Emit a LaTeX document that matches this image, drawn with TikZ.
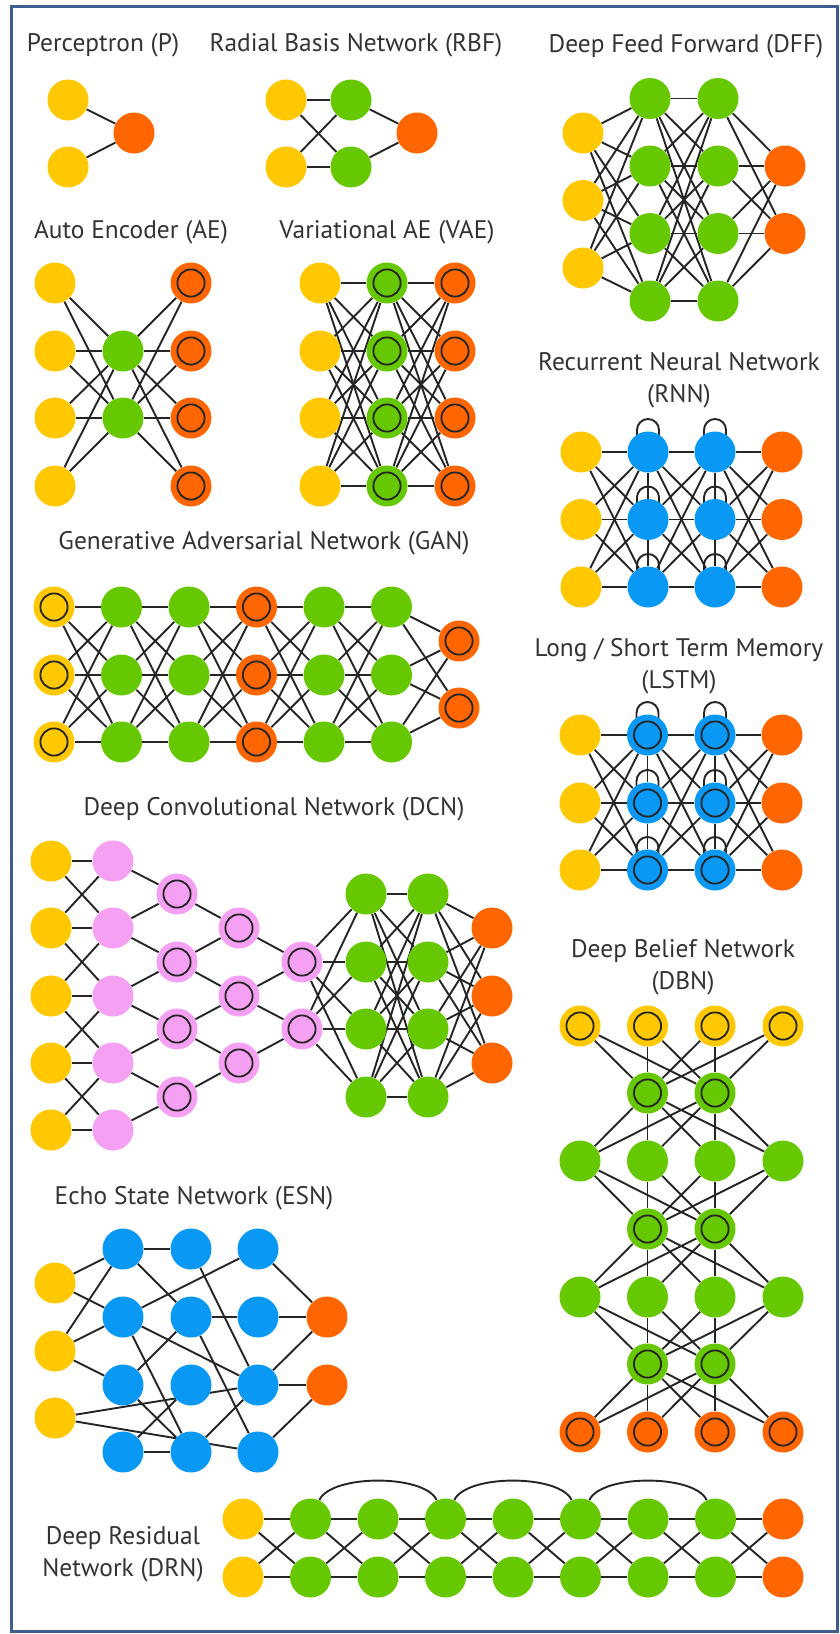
\documentclass[tikz,border=0pt]{standalone}
\usepackage{fontspec}
\setmainfont{PT Sans}
\usetikzlibrary{calc}
\pgfdeclarelayer{bg}
\pgfsetlayers{bg,main}
\definecolor{cY}{HTML}{FFC800}
\definecolor{cG}{HTML}{66C800}
\definecolor{cO}{HTML}{FF6600}
\definecolor{cB}{HTML}{0A98F5}
\definecolor{cP}{HTML}{F6A0F4}
\definecolor{cT}{HTML}{333333}
\definecolor{cE}{HTML}{252525}
\definecolor{cF}{HTML}{3D5E8E}
\newcommand\fullc[5]{\foreach \ii in {#3}{\foreach \jj in {#5}{\draw[edge] (#1-#2-\ii) -- (#1-#4-\jj);}}}
\newcommand\selfloop[1]{\draw[edge] ([xshift=-5.5pt]#1.center) -- ++(0pt,11pt) arc[start angle=180,end angle=0,radius=5.5pt] -- ++(0pt,-11pt);}
\tikzset{
  nn/.style={circle, inner sep=0pt, minimum size=20.5pt, draw=none},
  yel/.style={nn, fill=cY}, grn/.style={nn, fill=cG}, org/.style={nn, fill=cO},
  blu/.style={nn, fill=cB}, pnk/.style={nn, fill=cP},
  ring/.style={path picture={\draw[line width=0.9pt, cE] (path picture bounding box.center) circle[radius=6.8pt];}},
  edge/.style={draw=cE, line width=0.95pt},
  ttl/.style={text=cT, font=\fontsize{12.7}{16}\selectfont, align=center, inner sep=0pt},
}
\begin{document}
\begin{tikzpicture}[x=0.5pt, y=-0.5pt]
\useasboundingbox (0,0) rectangle (840,1634);
\draw[cF, line width=1.5pt] (11.5,6.5) rectangle (837.5,1631);

% ---------- titles
\node[ttl] (t-p) at (103,45) {Perceptron (P)};
\node[ttl] (t-rbf) at (356,45) {Radial Basis Network (RBF)};
\node[ttl] (t-dff) at (686,46) {Deep Feed Forward (DFF)};
\node[ttl] (t-ae) at (131,232) {Auto Encoder (AE)};
\node[ttl] (t-vae) at (387,232) {Variational AE (VAE)};
\node[ttl] (t-rnn) at (679,380) {Recurrent Neural Network\\(RNN)};
\node[ttl] (t-gan) at (264,543) {Generative Adversarial Network (GAN)};
\node[ttl] (t-lstm) at (679,666) {Long / Short Term Memory\\(LSTM)};
\node[ttl] (t-dcn) at (274,809) {Deep Convolutional Network (DCN)};
\node[ttl] (t-dbn) at (683,967) {Deep Belief Network\\(DBN)};
\node[ttl] (t-esn) at (194,1198) {Echo State Network (ESN)};
\node[ttl] (t-drn) at (123,1554) {Deep Residual\\Network (DRN)};

% ---------- Perceptron
\node[yel] (p-0-1) at (68,100) {};
\node[yel] (p-0-2) at (68,167) {};
\node[org] (p-1-1) at (134,133) {};

% ---------- RBF
\node[yel] (rbf-0-1) at (286,100) {};
\node[yel] (rbf-0-2) at (286,167) {};
\node[grn] (rbf-1-1) at (351,100) {};
\node[grn] (rbf-1-2) at (351,167) {};
\node[org] (rbf-2-1) at (417,133) {};

% ---------- DFF
\foreach \r/\y in {1/133,2/200.5,3/268} \node[yel] (dff-0-\r) at (583,\y) {};
\foreach \r/\y in {1/98.5,2/166,3/233.5,4/301} {
  \node[grn] (dff-1-\r) at (650,\y) {};
  \node[grn] (dff-2-\r) at (718,\y) {};
}
\foreach \r/\y in {1/166,2/233.5} \node[org] (dff-3-\r) at (785,\y) {};

% ---------- AE / VAE
\foreach \r/\y in {1/283,2/351,3/418,4/486} {
  \node[yel] (ae-0-\r) at (55,\y) {};
  \node[org, ring] (ae-2-\r) at (191,\y) {};
  \node[yel] (vae-0-\r) at (320,\y) {};
  \node[grn, ring] (vae-1-\r) at (387,\y) {};
  \node[org, ring] (vae-2-\r) at (455,\y) {};
}
\node[grn] (ae-1-1) at (123,351) {};
\node[grn] (ae-1-2) at (123,418) {};

% ---------- RNN
\foreach \r/\y in {1/452,2/519.5,3/587} {
  \node[yel] (rnn-0-\r) at (581,\y) {};
  \node[blu] (rnn-1-\r) at (648,\y) {};
  \node[blu] (rnn-2-\r) at (715,\y) {};
  \node[org] (rnn-3-\r) at (782,\y) {};
}

% ---------- LSTM
\foreach \r/\y in {1/735,2/803,3/870} {
  \node[yel] (lstm-0-\r) at (580,\y) {};
  \node[blu, ring] (lstm-1-\r) at (647.5,\y) {};
  \node[blu, ring] (lstm-2-\r) at (715,\y) {};
  \node[org] (lstm-3-\r) at (782,\y) {};
}

% ---------- GAN
\foreach \r/\y in {1/607,2/675,3/742} {
  \node[yel, ring] (gan-0-\r) at (54,\y) {};
  \node[grn] (gan-1-\r) at (121.5,\y) {};
  \node[grn] (gan-2-\r) at (189,\y) {};
  \node[org, ring] (gan-3-\r) at (256.5,\y) {};
  \node[grn] (gan-4-\r) at (324,\y) {};
  \node[grn] (gan-5-\r) at (391.5,\y) {};
}
\node[org, ring] (gan-6-1) at (459,641) {};
\node[org, ring] (gan-6-2) at (459,708) {};

% ---------- DCN
\foreach \r/\y in {1/861,2/928,3/996,4/1063,5/1130} {
  \node[yel] (dcn-0-\r) at (51,\y) {};
  \node[pnk] (dcn-1-\r) at (113,\y) {};
}
\foreach \r/\y in {1/894,2/962,3/1029,4/1097} {
  \node[pnk, ring] (dcn-2-\r) at (177,\y) {};
  \node[grn] (dcn-5-\r) at (366,\y) {};
  \node[grn] (dcn-6-\r) at (428,\y) {};
}
\foreach \r/\y in {1/928,2/996,3/1063} {
  \node[pnk, ring] (dcn-3-\r) at (239,\y) {};
  \node[org] (dcn-7-\r) at (492,\y) {};
}
\node[pnk, ring] (dcn-4-1) at (302,962) {};
\node[pnk, ring] (dcn-4-2) at (302,1029) {};

% ---------- DBN
\foreach \c/\x in {1/580,2/647.5,3/715,4/783} {
  \node[yel, ring] (dbn-0-\c) at (\x,1026) {};
  \node[grn] (dbn-2-\c) at (\x,1161) {};
  \node[grn] (dbn-4-\c) at (\x,1297) {};
  \node[org, ring] (dbn-6-\c) at (\x,1432) {};
}
\foreach \c/\x in {1/647.5,2/715} {
  \node[grn, ring] (dbn-1-\c) at (\x,1093) {};
  \node[grn, ring] (dbn-3-\c) at (\x,1229) {};
  \node[grn, ring] (dbn-5-\c) at (\x,1364) {};
}

% ---------- ESN
\foreach \r/\y in {1/1283,2/1351,3/1418} \node[yel] (esn-0-\r) at (55,\y) {};
\foreach \r/\y in {1/1249,2/1317,3/1385,4/1452} {
  \node[blu] (esn-1-\r) at (123,\y) {};
  \node[blu] (esn-2-\r) at (191,\y) {};
  \node[blu] (esn-3-\r) at (258,\y) {};
}
\node[org] (esn-4-1) at (327,1317) {};
\node[org] (esn-4-2) at (327,1385) {};

% ---------- DRN
\foreach \r/\y in {1/1519,2/1577} {
  \node[yel] (drn-0-\r) at (243,\y) {};
  \foreach \k in {1,...,7} \node[grn] (drn-\k-\r) at (243+67.5*\k,\y) {};
  \node[org] (drn-8-\r) at (783,\y) {};
}

% ================= connectors
\begin{pgfonlayer}{bg}
% Perceptron, RBF
\fullc{p}{0}{1,2}{1}{1}
\fullc{rbf}{0}{1,2}{1}{1,2}
\fullc{rbf}{1}{1,2}{2}{1}
% DFF
\fullc{dff}{0}{1,2,3}{1}{1,2,3,4}
\fullc{dff}{1}{1,2,3,4}{2}{1,2,3,4}
\fullc{dff}{2}{1,2,3,4}{3}{1,2}
% AE, VAE
\fullc{ae}{0}{1,2,3,4}{1}{1,2}
\fullc{ae}{1}{1,2}{2}{1,2,3,4}
\fullc{vae}{0}{1,2,3,4}{1}{1,2,3,4}
\fullc{vae}{1}{1,2,3,4}{2}{1,2,3,4}
% RNN, LSTM
\foreach \n in {rnn,lstm} {
  \fullc{\n}{0}{1,2,3}{1}{1,2,3}
  \fullc{\n}{1}{1,2,3}{2}{1,2,3}
  \fullc{\n}{2}{1,2,3}{3}{1,2,3}
  \foreach \c in {1,2} {
    \draw[edge] (\n-\c-1) -- (\n-\c-2);
    \draw[edge] (\n-\c-2) -- (\n-\c-3);
    \foreach \r in {1,2,3} {\selfloop{\n-\c-\r}}
  }
}
% GAN
\fullc{gan}{0}{1,2,3}{1}{1,2,3}
\fullc{gan}{1}{1,2,3}{2}{1,2,3}
\fullc{gan}{2}{1,2,3}{3}{1,2,3}
\fullc{gan}{3}{1,2,3}{4}{1,2,3}
\fullc{gan}{4}{1,2,3}{5}{1,2,3}
\fullc{gan}{5}{1,2,3}{6}{1,2}
% DCN
\foreach \i in {1,...,5} \draw[edge] (dcn-0-\i) -- (dcn-1-\i);
\foreach \i [evaluate=\i as \j using int(\i+1)] in {1,...,4} {
  \draw[edge] (dcn-0-\i) -- (dcn-1-\j);
  \draw[edge] (dcn-0-\j) -- (dcn-1-\i);
  \draw[edge] (dcn-1-\i) -- (dcn-2-\i);
  \draw[edge] (dcn-1-\j) -- (dcn-2-\i);
}
\foreach \i [evaluate=\i as \j using int(\i+1)] in {1,2,3} {
  \draw[edge] (dcn-2-\i) -- (dcn-3-\i);
  \draw[edge] (dcn-2-\j) -- (dcn-3-\i);
}
\foreach \i [evaluate=\i as \j using int(\i+1)] in {1,2} {
  \draw[edge] (dcn-3-\i) -- (dcn-4-\i);
  \draw[edge] (dcn-3-\j) -- (dcn-4-\i);
}
\fullc{dcn}{4}{1,2}{5}{1,2,3,4}
\fullc{dcn}{5}{1,2,3,4}{6}{1,2,3,4}
\fullc{dcn}{6}{1,2,3,4}{7}{1,2,3}
% DBN
\fullc{dbn}{0}{1,2,3,4}{1}{1,2}
\fullc{dbn}{1}{1,2}{2}{1,2,3,4}
\fullc{dbn}{2}{1,2,3,4}{3}{1,2}
\fullc{dbn}{3}{1,2}{4}{1,2,3,4}
\fullc{dbn}{4}{1,2,3,4}{5}{1,2}
\fullc{dbn}{5}{1,2}{6}{1,2,3,4}
% ESN
\foreach \a/\b in {0-1/1-1,0-1/1-2,0-2/1-1,0-2/1-2,0-2/1-3,0-3/3-3,0-3/3-4,
  1-1/2-1,1-1/2-2,1-2/3-1,1-2/3-3,1-2/2-4,1-3/2-2,1-3/2-4,1-4/2-3,1-4/2-4,
  2-1/3-3,2-2/3-2,2-2/3-4,2-4/3-3,
  3-1/4-1,3-2/4-1,3-3/4-1,3-3/4-2,3-4/4-2}
  \draw[edge] (esn-\a) -- (esn-\b);
% DRN
\foreach \k [evaluate=\k as \m using int(\k+1)] in {0,...,7} {
  \draw[edge] (drn-\k-1) -- (drn-\m-1);
  \draw[edge] (drn-\k-2) -- (drn-\m-2);
  \draw[edge] (drn-\k-1) -- (drn-\m-2);
  \draw[edge] (drn-\k-2) -- (drn-\m-1);
}
\foreach \k/\m in {1/3,3/5,5/7}
  \draw[edge] (drn-\k-1.65) .. controls +(6pt,13pt) and +(-6pt,13pt) .. (drn-\m-1.115);
\end{pgfonlayer}
\end{tikzpicture}
\end{document}
